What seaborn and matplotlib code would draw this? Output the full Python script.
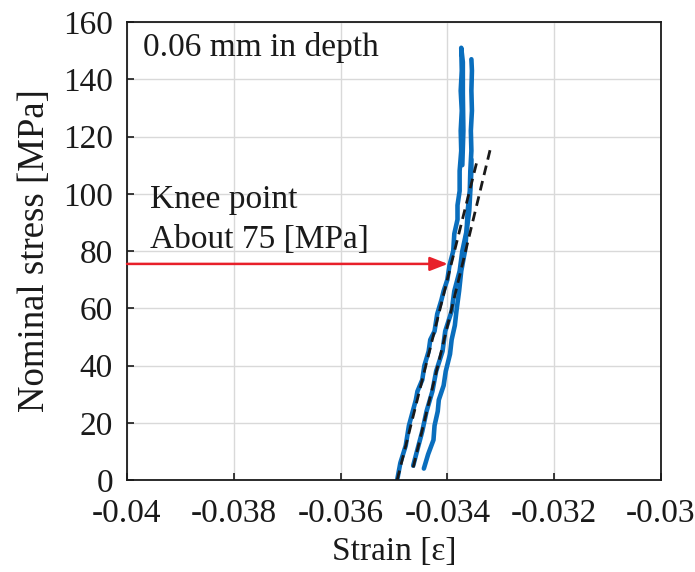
import matplotlib
matplotlib.use("Agg")
import matplotlib.pyplot as plt
import seaborn as sns
import pandas as pd

# Loading curves (strain, nominal stress in MPa)
strain_a = [-0.03494, -0.03488, -0.03478, -0.03472, -0.03459, -0.03456, -0.03447, -0.03443,
            -0.03435, -0.03432, -0.03424, -0.03419, -0.03411, -0.03407, -0.03400, -0.03396,
            -0.03389, -0.03387, -0.03381, -0.03381, -0.03377, -0.03377, -0.03374, -0.03375,
            -0.03373, -0.03375, -0.03373, -0.03374, -0.03371, -0.03371, -0.03370, -0.03372]
stress_a = [0, 6, 12, 19, 28, 31, 35, 40, 45, 49, 52, 58, 63, 66, 70, 75,
            80, 86, 91, 96, 101, 108, 115, 122, 129, 136, 143, 151, 146, 135, 122, 110]

strain_b = [-0.03464, -0.03457, -0.03447, -0.03439, -0.03428, -0.03421, -0.03409, -0.03404,
            -0.03392, -0.03387, -0.03377, -0.03372, -0.03364, -0.03362, -0.03358, -0.03357,
            -0.03355, -0.03356, -0.03354, -0.03355, -0.03354, -0.03355]
stress_b = [5, 10, 17, 24, 31, 38, 45, 52, 59, 66, 73, 80, 87, 94, 101, 108,
            115, 122, 129, 136, 143, 147]

strain_c = [-0.03444, -0.03436, -0.03426, -0.03424, -0.03418, -0.03416, -0.03407, -0.03403,
            -0.03395, -0.03392, -0.03386, -0.03383, -0.03378, -0.03374, -0.03367, -0.03364,
            -0.03359, -0.03357, -0.03355, -0.03355]
stress_c = [4, 9, 14, 19, 24, 28, 33, 38, 44, 49, 54, 59, 66, 73, 80, 87, 94, 101, 108, 112]

# Linear fits of the elastic parts
fit1_strain = [-0.03494, -0.03345]
fit1_stress = [0, 111]
fit2_strain = [-0.03464, -0.03320]
fit2_stress = [4.4, 115.3]

knee_stress = 75.5
knee_strain = -0.03399

x_ticks = [-0.04, -0.038, -0.036, -0.034, -0.032, -0.03]
x_labels = ["-0.04", "-0.038", "-0.036", "-0.034", "-0.032", "-0.03"]
y_ticks = [0, 20, 40, 60, 80, 100, 120, 140, 160]

sns.set_theme(style="whitegrid")
plt.rcParams["font.family"] = ["Liberation Serif", "DejaVu Serif"]
plt.rcParams["axes.unicode_minus"] = False

fig = plt.figure(figsize=(6.95, 5.72), dpi=100)
ax = fig.add_axes([0.1827, 0.1608, 0.7683, 0.8007])

blue = "#0A6EBD"
for sx, sy in [(strain_a, stress_a), (strain_b, stress_b), (strain_c, stress_c)]:
    df = pd.DataFrame({"strain": sx, "stress": sy})
    sns.lineplot(data=df, x="strain", y="stress", sort=False, estimator=None,
                 color=blue, lw=3.3, ax=ax)

for sx, sy in [(fit1_strain, fit1_stress), (fit2_strain, fit2_stress)]:
    df = pd.DataFrame({"strain": sx, "stress": sy})
    sns.lineplot(data=df, x="strain", y="stress", sort=False, estimator=None,
                 color="#1a1a1a", lw=2.0, ax=ax, linestyle=(0, (3.5, 2.2)))

ax.annotate("", xy=(knee_strain, knee_stress), xytext=(-0.04, knee_stress),
            arrowprops=dict(arrowstyle="-|>,head_length=0.9,head_width=0.35",
                            color="#E8202A", lw=1.8, shrinkA=0, shrinkB=0))

ax.text(-0.0397, 151, "0.06 mm in depth", fontsize=24, va="center", ha="left", color="#1a1a1a")
ax.text(-0.03957, 98, "Knee point", fontsize=24, va="center", ha="left", color="#1a1a1a")
ax.text(-0.03957, 84, "About 75 [MPa]", fontsize=24, va="center", ha="left", color="#1a1a1a")

ax.set_xlim(-0.04, -0.03)
ax.set_ylim(0, 160)
ax.set_xticks(x_ticks)
ax.set_xticklabels(x_labels)
ax.set_yticks(y_ticks)
ax.set_xlabel("Strain [ε]", fontsize=24, color="#1a1a1a", labelpad=6)
ax.set_ylabel("Nominal stress [MPa]", fontsize=26.5, color="#1a1a1a", labelpad=8)
ax.tick_params(axis="both", labelsize=24, colors="#1a1a1a", direction="in", length=5,
               width=1.2, left=True, bottom=True)
ax.tick_params(axis="x", pad=13)
ax.tick_params(axis="y", pad=10)
ax.grid(True, color="#d9d9d9", lw=1.0)
for side in ["left", "right", "top", "bottom"]:
    ax.spines[side].set_color("#1a1a1a")
    ax.spines[side].set_linewidth(1.3)
ax.set_facecolor("white")

fig.savefig("out.png", dpi=100, facecolor="white")
